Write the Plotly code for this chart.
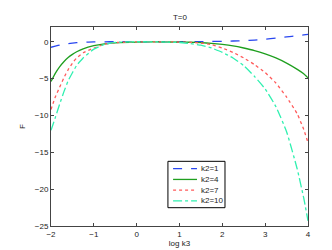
import plotly.graph_objects as go

log_k3 = [-2, -1.9, -1.8, -1.7, -1.6, -1.5, -1.4, -1.25, -1, -0.75, -0.5, 0, 0.5,
          1, 1.25, 1.5, 1.75, 2, 2.25, 2.5, 2.75, 3, 3.25, 3.5, 3.75, 3.9, 4]

F_k2_1 = [-0.75, -0.6, -0.45, -0.33, -0.25, -0.18, -0.13, -0.08, -0.03, -0.01, 0, 0, 0,
          0, 0.01, 0.02, 0.04, 0.06, 0.1, 0.15, 0.23, 0.35, 0.5, 0.66, 0.82, 0.92, 1.0]
F_k2_4 = [-5.4, -4.29, -3.41, -2.71, -2.15, -1.71, -1.36, -0.96, -0.54, -0.30, -0.15, -0.04, -0.02,
          -0.05, -0.07, -0.12, -0.22, -0.36, -0.56, -0.85, -1.2, -1.65, -2.2, -2.9, -3.75, -4.35, -4.9]
F_k2_7 = [-9.2, -7.5, -6.2, -4.9, -3.8, -2.9, -2.2, -1.5, -0.85, -0.35, -0.12, -0.01, -0.01,
          -0.04, -0.08, -0.17, -0.4, -0.85, -1.45, -2.2, -3.1, -4.2, -5.6, -7.5, -9.8, -11.9, -13.7]
F_k2_10 = [-12.0, -10.3, -8.5, -6.8, -5.3, -4.2, -3.2, -2.2, -1.0, -0.36, -0.08, 0, -0.02,
           -0.1, -0.25, -0.47, -0.85, -1.45, -2.2, -3.25, -4.7, -6.4, -8.8, -12.2, -17.3, -21.2, -24.3]

series = [
    ("k2=1", F_k2_1, "#2846f0", "dash"),
    ("k2=4", F_k2_4, "#1f9f1f", "solid"),
    ("k2=7", F_k2_7, "#ff5a5a", "dot"),
    ("k2=10", F_k2_10, "#30f0b0", "dashdot"),
]

x_ticks = [-2, -1, 0, 1, 2, 3, 4]
y_ticks = [-25, -20, -15, -10, -5, 0]

FONT_FAMILY = "Liberation Sans, Arial, sans-serif"
font = dict(family=FONT_FAMILY, size=8, color="#222")

fig = go.Figure()
for name, ys, color, dash in series:
    fig.add_trace(go.Scatter(x=log_k3, y=ys, mode="lines", name=name, showlegend=False,
                             line=dict(color=color, dash=dash, width=1.3,
                                       shape="spline", smoothing=0.4)))

# Legend box drawn manually (paper coordinates) to match compact MATLAB-style legend
shapes = [dict(type="rect", xref="paper", yref="paper", x0=0.455, x1=0.677, y0=0.092, y1=0.325,
               line=dict(color="black", width=1), fillcolor="white", layer="above")]
annotations = []
row_y = [0.288, 0.234, 0.180, 0.126]
for (name, ys, color, dash), yy in zip(series, row_y):
    shapes.append(dict(type="line", xref="paper", yref="paper", x0=0.475, x1=0.568, y0=yy, y1=yy,
                       line=dict(color=color, dash=dash, width=1.3), layer="above"))
    annotations.append(dict(xref="paper", yref="paper", x=0.574, y=yy, text=name, showarrow=False,
                            xanchor="left", yanchor="middle", font=font))

axis_common = dict(showgrid=False, zeroline=False, showline=True, mirror="ticks",
                   linecolor="#444", linewidth=1, ticks="inside", ticklen=3,
                   tickcolor="#444", tickfont=font)

fig.update_layout(
    width=332, height=250,
    margin=dict(l=43, r=32, t=19, b=28),
    paper_bgcolor="white", plot_bgcolor="white",
    font=font,
    title=dict(text="T=0", x=0.518, xanchor="center", y=0.965, yanchor="middle", font=font),
    xaxis=dict(range=[-2, 4], tickvals=x_ticks, title=dict(text="log k3", standoff=2, font=font),
               **axis_common),
    yaxis=dict(range=[-25, 2], tickvals=y_ticks, title=dict(text="F", standoff=8, font=font),
               **axis_common),
    showlegend=False,
    shapes=shapes,
    annotations=annotations,
)

fig.write_html("out.html")
